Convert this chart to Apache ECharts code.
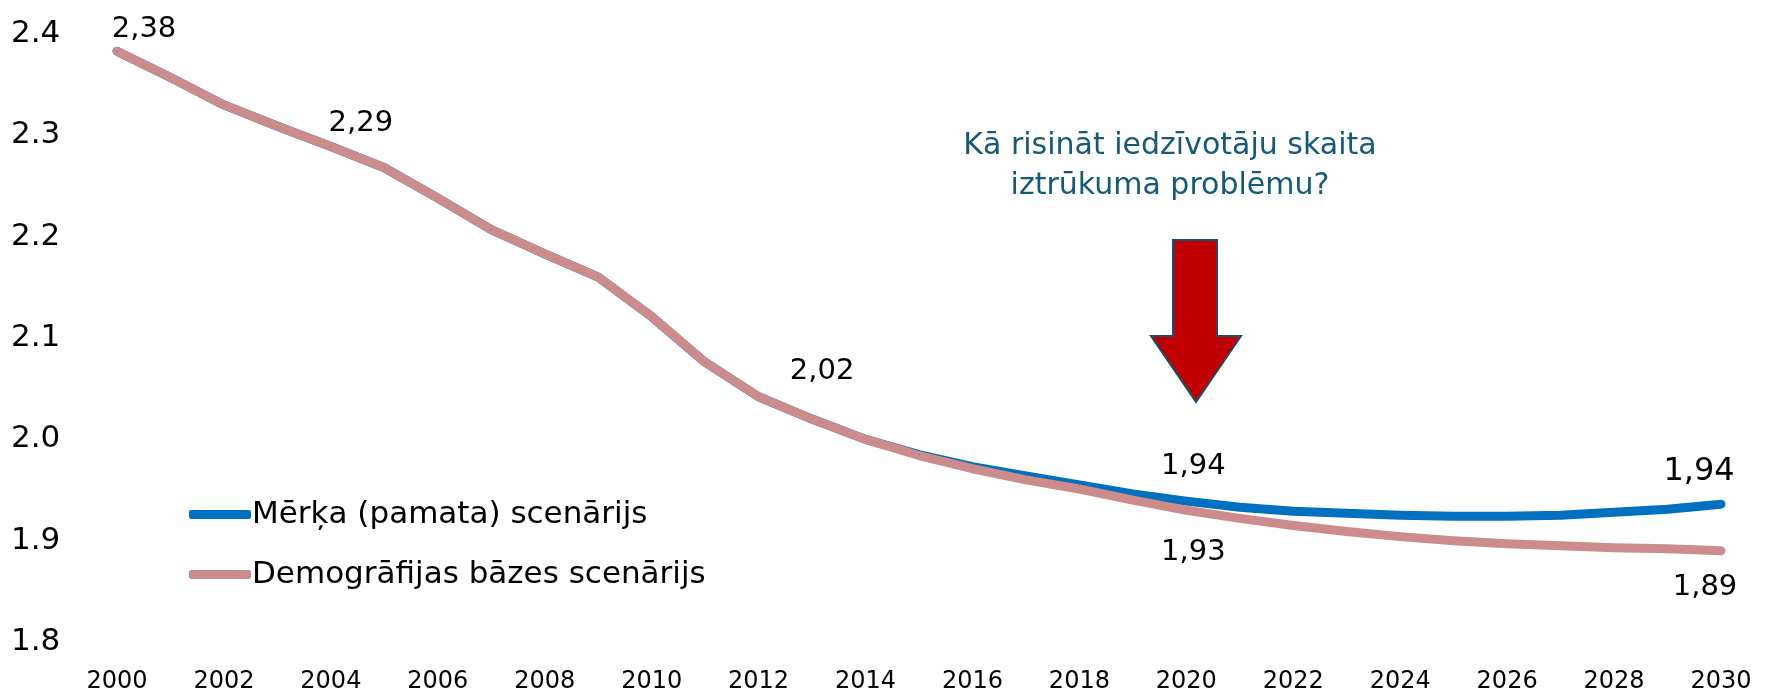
<!DOCTYPE html>
<html lang="lv">
<head>
    <meta charset="UTF-8">
    <title>Dzimstība</title>
    <script src="https://cdn.jsdelivr.net/npm/echarts@6/dist/echarts.min.js"></script>
    <style>
        html, body { margin: 0; padding: 0; background: #fff; }
        #main { width: 1767px; height: 700px; }
    </style>
</head>
<body>
<div id="main"></div>
<script>
    // gadi
    var years = ['2000','2001','2002','2003','2004','2005','2006','2007','2008','2009',
        '2010','2011','2012','2013','2014','2015','2016','2017','2018','2019',
        '2020','2021','2022','2023','2024','2025','2026','2027','2028','2029','2030'];
    // Mērķa (pamata) scenārijs
    var merka = [2.383, 2.357, 2.330, 2.309, 2.289, 2.268, 2.238, 2.207, 2.183, 2.160,
        2.121, 2.076, 2.042, 2.020, 2.000, 1.985, 1.973, 1.964, 1.955, 1.946,
        1.939, 1.933, 1.929, 1.927, 1.925, 1.924, 1.924, 1.925, 1.928, 1.931, 1.936];
    // Demogrāfijas bāzes scenārijs
    var bazes = [2.383, 2.357, 2.330, 2.309, 2.289, 2.268, 2.238, 2.207, 2.183, 2.160,
        2.121, 2.076, 2.042, 2.020, 2.000, 1.984, 1.971, 1.960, 1.951, 1.940,
        1.930, 1.922, 1.915, 1.909, 1.904, 1.900, 1.897, 1.895, 1.893, 1.892, 1.890];
    var yTicks = [1.8, 1.9, 2.0, 2.1, 2.2, 2.3, 2.4];

    // kuriem punktiem rādīt vērtību
    var merkaLabels = {20: {position: 'top', distance: 20, offset: [7, 0]},
        30: {position: 'top', distance: 16, offset: [-22, 0], fontSize: 32}};
    var bazesLabels = {0: {position: 'top', distance: 7, offset: [27, 0]},
        4: {position: 'top', distance: 8, offset: [30, 0]},
        13: {position: 'top', distance: 33, offset: [10, 0]},
        20: {position: 'bottom', distance: 27, offset: [7, 0]},
        30: {position: 'bottom', distance: 22, offset: [-16, 0]}};

    var font = 'DejaVu Sans';

    function fmt(p) {
        return p.value.toFixed(2).replace('.', ',');
    }
    function withLabels(values, labels) {
        return values.map(function (v, i) {
            if (!labels[i]) return v;
            var l = labels[i];
            return {value: v, label: {show: true, position: l.position, distance: l.distance,
                offset: l.offset, fontSize: l.fontSize || 29, color: '#000', fontFamily: font, formatter: fmt}};
        });
    }

    var chart = echarts.init(document.getElementById('main'));
    var option = {
        animation: false,
        backgroundColor: '#fff',
        grid: {left: 117, right: 46, top: 34, bottom: 58},
        legend: {
            orient: 'vertical', left: 184, top: 494,
            icon: 'roundRect', itemWidth: 62, itemHeight: 9, itemGap: 29,
            textStyle: {fontFamily: font, fontSize: 31, color: '#000', padding: [0, 0, 0, -4]},
            data: ['Mērķa (pamata) scenārijs', 'Demogrāfijas bāzes scenārijs']
        },
        xAxis: {
            type: 'category', data: years, boundaryGap: false,
            axisLine: {show: false}, axisTick: {show: false}, splitLine: {show: false},
            axisLabel: {interval: 1, margin: 28, fontFamily: font, fontSize: 24, color: '#000'}
        },
        yAxis: {
            type: 'value', min: yTicks[0], max: yTicks[yTicks.length - 1], interval: 0.1,
            axisLine: {show: false}, axisTick: {show: false}, splitLine: {show: false},
            axisLabel: {align: 'left', margin: 106, fontFamily: font, fontSize: 31, color: '#000',
                formatter: function (v) { return v.toFixed(1); }}
        },
        series: [
            {
                name: 'Mērķa (pamata) scenārijs', type: 'line',
                symbol: 'circle', symbolSize: 1, showSymbol: true,
                data: withLabels(merka, merkaLabels),
                itemStyle: {color: '#0070c0'},
                lineStyle: {color: '#0070c0', width: 9, cap: 'round', join: 'round'}
            },
            {
                name: 'Demogrāfijas bāzes scenārijs', type: 'line',
                symbol: 'circle', symbolSize: 1, showSymbol: true,
                data: withLabels(bazes, bazesLabels),
                itemStyle: {color: '#cc8c8c'},
                lineStyle: {color: '#cc8c8c', width: 9, cap: 'round', join: 'round'}
            }
        ],
        graphic: [
            {
                type: 'text', x: 1170, y: 126,
                style: {
                    text: 'Kā risināt iedzīvotāju skaita\niztrūkuma problēmu?',
                    textAlign: 'center',
                    fontFamily: font, fontSize: 30, lineHeight: 40, fill: '#145a7a'
                }
            },
            {
                type: 'polygon',
                shape: {points: [[1173, 240], [1217, 240], [1217, 336], [1241, 336],
                    [1196, 402], [1151, 336], [1173, 336]]},
                style: {fill: '#c00000', stroke: '#17506e', lineWidth: 2}
            }
        ]
    };
    chart.setOption(option);
</script>
</body>
</html>
